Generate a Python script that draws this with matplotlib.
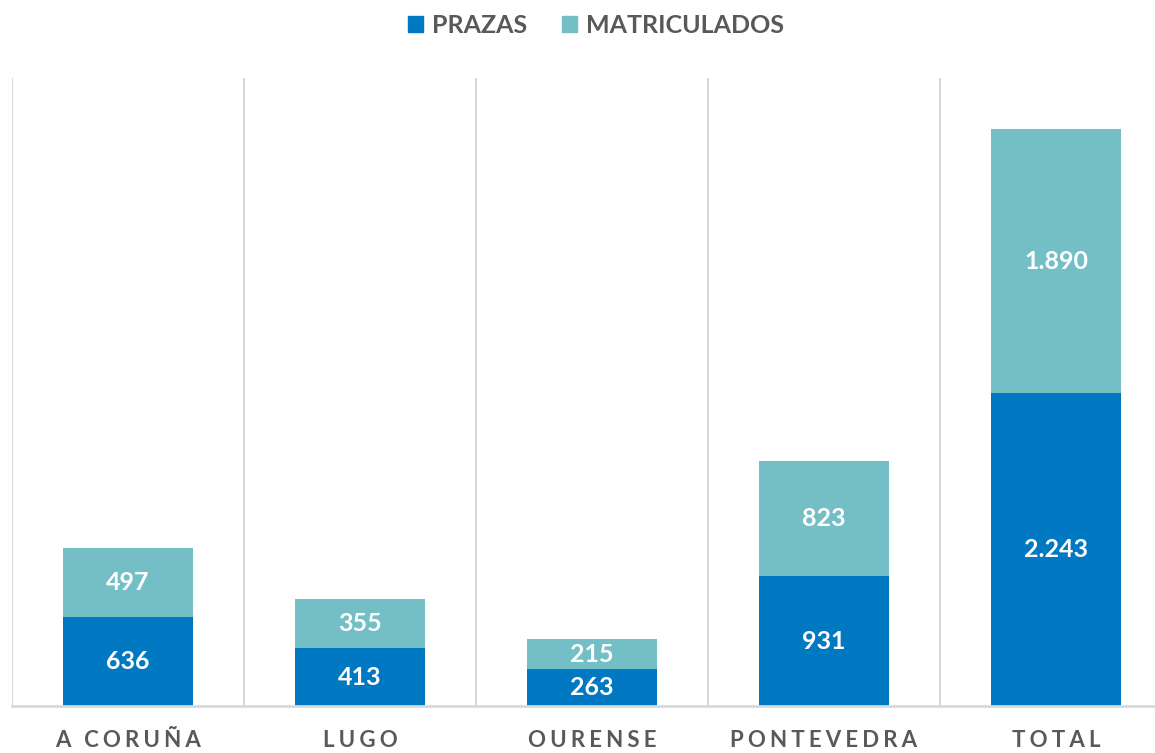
import matplotlib
matplotlib.use("Agg")
import matplotlib.pyplot as plt
from matplotlib.patches import Patch

categories = ["A CORUÑA", "LUGO", "OURENSE", "PONTEVEDRA", "TOTAL"]
prazas = [636, 413, 263, 931, 2243]
matriculados = [497, 355, 215, 823, 1890]
series_names = ["PRAZAS", "MATRICULADOS"]

BLUE = "#0079C2"
TEAL = "#74BFC5"
GREY = "#595959"
GRID = "#D9D9D9"
FONT = ["Lato", "DejaVu Sans"]

plt.rcParams["font.family"] = FONT

def fmt(v):
    return f"{v:,}".replace(",", ".")

def spaced(s):
    return "\u2009\u200a".join(s)

fig = plt.figure(figsize=(11.55, 7.53), dpi=100)
ax = fig.add_axes([12 / 1155, 47 / 753, 1160 / 1155, 628 / 753])

x = list(range(len(categories)))
w = 0.56
ax.bar(x, prazas, width=w, color=BLUE, zorder=3)
ax.bar(x, matriculados, width=w, bottom=prazas, color=TEAL, zorder=3)

for i in x:
    ax.text(i, prazas[i] / 2, fmt(prazas[i]), ha="center", va="center",
            color="white", fontsize=18, fontweight="bold", zorder=4)
    ax.text(i, prazas[i] + matriculados[i] / 2, fmt(matriculados[i]),
            ha="center", va="center", color="white", fontsize=18,
            fontweight="bold", zorder=4)
    ax.annotate(spaced(categories[i]), xy=(i, 0), xytext=(0, -29.5),
                textcoords="offset points", ha="center", va="baseline",
                color=GREY, fontsize=16, fontweight="bold")

for b in [i - 0.5 for i in range(len(categories) + 1)]:
    ax.axvline(b, color=GRID, lw=1.5, zorder=1)

ax.set_xlim(-0.5, len(categories) - 0.5)
ax.set_ylim(0, 4500)
ax.set_xticks([])
ax.set_yticks([])
for s in ["top", "left", "right"]:
    ax.spines[s].set_visible(False)
ax.spines["bottom"].set_color(GRID)
ax.spines["bottom"].set_linewidth(2)
ax.spines["bottom"].set_zorder(5)

handles = [Patch(color=BLUE, label=series_names[0]),
           Patch(color=TEAL, label=series_names[1])]
leg = fig.legend(handles=handles, loc="center", bbox_to_anchor=(0.516, 0.966),
                 ncol=2, frameon=False, handlelength=0.6, handleheight=0.6,
                 handletextpad=0.35, columnspacing=1.4,
                 prop={"family": FONT, "size": 18, "weight": "bold"})
for t in leg.get_texts():
    t.set_color(GREY)

fig.savefig("out.png", dpi=100)
